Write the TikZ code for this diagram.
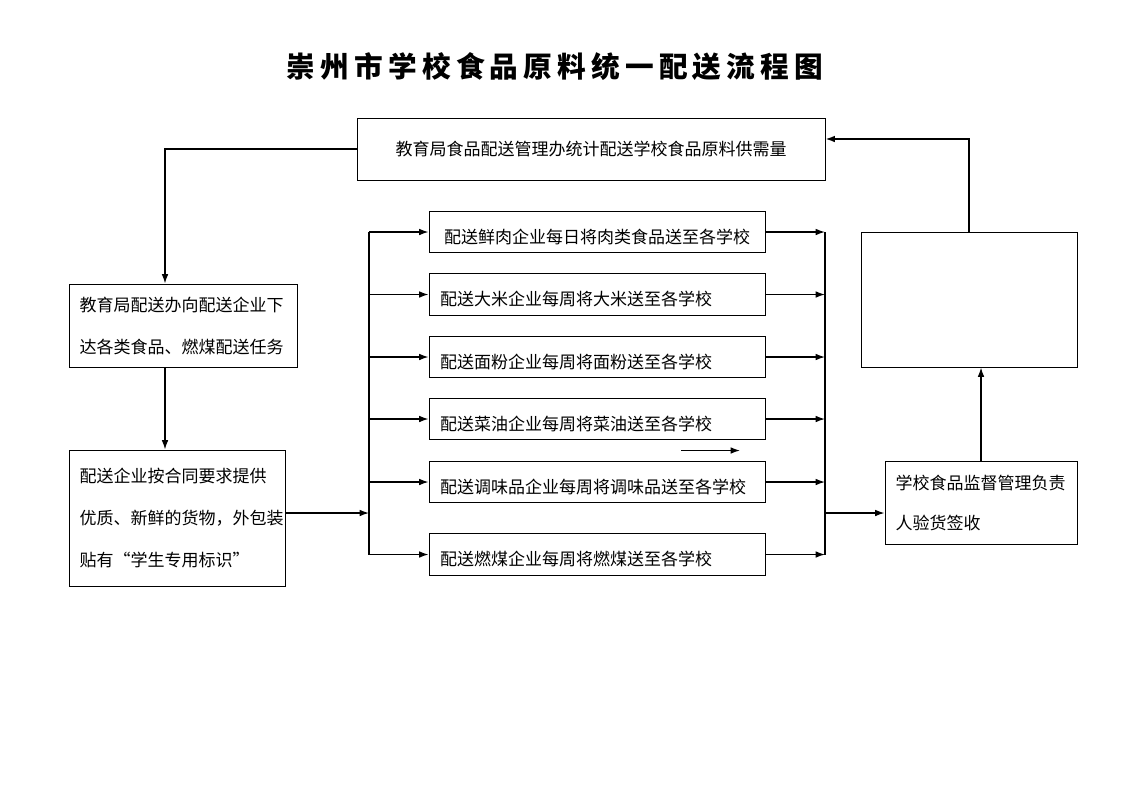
\documentclass[tikz,border=0pt]{standalone}
\usepackage{fontspec}
\usepackage{tikz}
\usetikzlibrary{arrows.meta}
\newfontfamily\cjk{Noto Sans CJK SC}

\tikzset{
  box/.style={draw, line width=0.75pt, inner sep=0pt, font=\cjk\fontsize{12.75pt}{31.5pt}\selectfont},
  flow/.style={line width=1pt, -{Latex[length=7pt,width=5pt]}},
  bus/.style={line width=1.6pt},
}

\begin{document}
\begin{tikzpicture}[x=0.75pt,y=0.75pt,yscale=-1,xscale=1]
        \useasboundingbox (0,0) rectangle (1134,793);

        % Title
        \node (title) at (555,67) {\cjk\bfseries\fontsize{21.5pt}{25pt}\selectfont\addfontfeature{LetterSpace=18}崇州市学校食品原料统一配送流程图};

        % Text Node
        \node [box, minimum width=351pt, minimum height=46.5pt] (plan) at (591,149) {教育局食品配送管理办统计配送学校食品原料供需量};
        % Text Node
        \node [box, minimum width=171pt, minimum height=62.25pt, text width=155pt, align=left] (task) at (183,325.5) {教育局配送办向配送企业下\\达各类食品、燃煤配送任务};
        % Text Node
        \node [box, minimum width=162pt, minimum height=102pt, text width=146pt, align=left] (order) at (177,518) {配送企业按合同要求提供\\优质、新鲜的货物，外包装\\贴有“学生专用标识”};

        % Text Node
        \node [box, minimum width=252pt, minimum height=31pt, text width=235.5pt, align=center] (meat) at (597,232) {\rule{0pt}{18pt}配送鲜肉企业每日将肉类食品送至各学校};
        \node [box, minimum width=252pt, minimum height=31pt, text width=235.5pt, align=left] (rice) at (597,294.5) {\rule{0pt}{18pt}配送大米企业每周将大米送至各学校};
        \node [box, minimum width=252pt, minimum height=31pt, text width=235.5pt, align=left] (flour) at (597,357) {\rule{0pt}{18pt}配送面粉企业每周将面粉送至各学校};
        \node [box, minimum width=252pt, minimum height=31pt, text width=235.5pt, align=left] (oil) at (597,419) {\rule{0pt}{18pt}配送菜油企业每周将菜油送至各学校};
        \node [box, minimum width=252pt, minimum height=31pt, text width=235.5pt, align=left] (spice) at (597,482) {\rule{0pt}{18pt}配送调味品企业每周将调味品送至各学校};
        \node [box, minimum width=252pt, minimum height=31pt, text width=235.5pt, align=left] (coal) at (597,554.5) {\rule{0pt}{18pt}配送燃煤企业每周将燃煤送至各学校};

        % Text Node
        \node [box, minimum width=162pt, minimum height=101.25pt] (blank) at (969,299.5) {};
        % Text Node
        \node [box, minimum width=144pt, minimum height=62.25pt, text width=128pt, align=left, font=\cjk\fontsize{12.75pt}{30pt}\selectfont] (check) at (981,502.5) {学校食品监督管理负责\\人验货签收};

        % Bend points
        \coordinate (leftrun) at (165,149);
        \coordinate (rightrun) at (969,139);
        \coordinate (lbus) at (369,513);
        \coordinate (rbus) at (825,513);
        \coordinate (loose1) at (681,450.5);
        \coordinate (loose2) at (740,450.5);

        %Straight Lines
        \draw [flow] (plan.west) -| (task.north -| leftrun);
        \draw [flow] (task.south -| leftrun) -- (order.north -| leftrun);
        \draw [flow] (order.east |- lbus) -- (lbus);

        %Straight Lines
        \draw [bus] (meat.west -| lbus) -- (coal.west -| lbus);
        \draw [flow] (meat.west -| lbus) -- (meat.west);
        \draw [flow] (rice.west -| lbus) -- (rice.west);
        \draw [flow] (flour.west -| lbus) -- (flour.west);
        \draw [flow] (oil.west -| lbus) -- (oil.west);
        \draw [flow] (spice.west -| lbus) -- (spice.west);
        \draw [flow] (coal.west -| lbus) -- (coal.west);

        %Straight Lines
        \draw [bus] (meat.east -| rbus) -- (coal.east -| rbus);
        \draw [flow] (meat.east) -- (meat.east -| rbus);
        \draw [flow] (rice.east) -- (rice.east -| rbus);
        \draw [flow] (flour.east) -- (flour.east -| rbus);
        \draw [flow] (oil.east) -- (oil.east -| rbus);
        \draw [flow] (spice.east) -- (spice.east -| rbus);
        \draw [flow] (coal.east) -- (coal.east -| rbus);
        \draw [flow] (loose1) -- (loose2);

        %Straight Lines
        \draw [flow] (rbus) -- (rbus -| check.west);
        \draw [flow] (check.north) -- (check.north |- blank.south);
        \draw [flow, line width=1.2pt] (blank.north) |- (plan.east |- rightrun);

\end{tikzpicture}
\end{document}
